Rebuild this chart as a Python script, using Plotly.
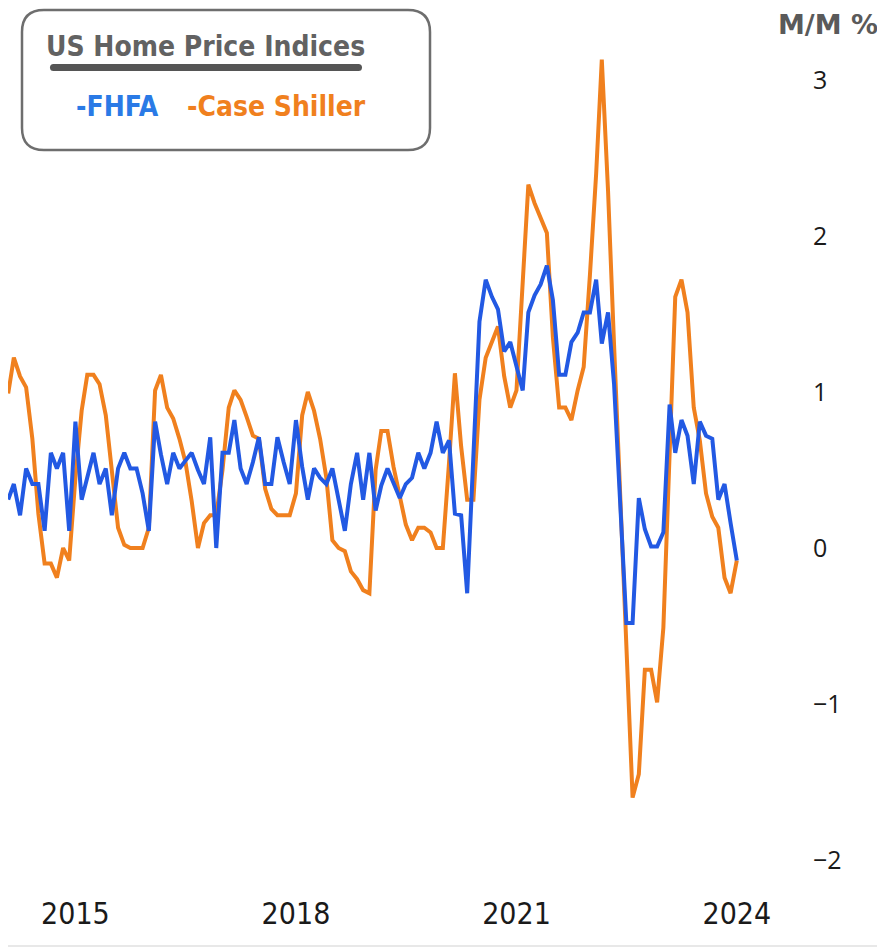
import plotly.graph_objects as go
import pandas as pd

# ---------------- data (monthly, M/M %) ----------------
start_month = "2014-02-01"
n_months = 120

fhfa = [
    0.31, 0.41, 0.21, 0.51, 0.41, 0.41, 0.11, 0.61, 0.51, 0.61,
    0.11, 0.81, 0.31, 0.45, 0.61, 0.41, 0.51, 0.21, 0.51, 0.61,
    0.51, 0.51, 0.35, 0.11, 0.81, 0.60, 0.41, 0.61, 0.51, 0.56,
    0.61, 0.50, 0.41, 0.71, 0.00, 0.61, 0.61, 0.82, 0.51, 0.41,
    0.55, 0.71, 0.41, 0.41, 0.71, 0.55, 0.41, 0.82, 0.52, 0.31,
    0.51, 0.45, 0.41, 0.51, 0.30, 0.11, 0.41, 0.61, 0.31, 0.61,
    0.24, 0.40, 0.51, 0.41, 0.32, 0.41, 0.45, 0.61, 0.51, 0.61,
    0.81, 0.61, 0.69, 0.22, 0.21, -0.29, 0.60, 1.45, 1.72, 1.61,
    1.53, 1.26, 1.32, 1.17, 1.01, 1.51, 1.62, 1.69, 1.81, 1.59,
    1.11, 1.11, 1.32, 1.38, 1.51, 1.51, 1.72, 1.31, 1.51, 1.05,
    0.30, -0.48, -0.48, 0.32, 0.12, 0.01, 0.01, 0.10, 0.92, 0.61,
    0.82, 0.72, 0.41, 0.81, 0.72, 0.70, 0.31, 0.41, 0.16, -0.08,
]

case_shiller = [
    0.99, 1.22, 1.10, 1.03, 0.70, 0.22, -0.10, -0.10, -0.19, 0.00,
    -0.08, 0.45, 0.88, 1.11, 1.11, 1.05, 0.85, 0.47, 0.13, 0.02,
    0.00, 0.00, 0.00, 0.13, 1.01, 1.11, 0.90, 0.83, 0.70, 0.55,
    0.30, 0.00, 0.16, 0.21, 0.21, 0.50, 0.90, 1.01, 0.95, 0.84,
    0.72, 0.70, 0.38, 0.25, 0.21, 0.21, 0.21, 0.35, 0.85, 1.00,
    0.88, 0.70, 0.45, 0.05, 0.00, -0.02, -0.15, -0.20, -0.27, -0.29,
    0.50, 0.75, 0.75, 0.52, 0.33, 0.15, 0.05, 0.13, 0.13, 0.10,
    0.00, 0.00, 0.55, 1.12, 0.65, 0.31, 0.31, 0.95, 1.22, 1.32,
    1.42, 1.10, 0.90, 1.01, 1.65, 2.33, 2.21, 2.12, 2.02, 1.35,
    0.90, 0.90, 0.82, 1.01, 1.16, 1.75, 2.40, 3.13, 2.29, 1.30,
    0.30, -0.70, -1.60, -1.45, -0.78, -0.78, -0.99, -0.51, 0.55, 1.61,
    1.72, 1.51, 0.90, 0.69, 0.35, 0.20, 0.13, -0.19, -0.29, -0.08,
]

x_tick_dates = ["2015-01-01", "2018-01-01", "2021-01-01", "2024-01-01"]
x_tick_labels = ["2015", "2018", "2021", "2024"]
y_ticks = [-2, -1, 0, 1, 2, 3]

months = pd.date_range(start_month, periods=n_months, freq="MS")

# ---------------- layout geometry ----------------
# page body has an 8px margin, so figure pixel = target pixel - 8
OFF = 8
W, H = 885 - OFF, 951 - OFF
PLOT_L, PLOT_R, PLOT_T, PLOT_B = 8, 800, 30, 890   # target-pixel plot box
ML = PLOT_L - OFF
MT = PLOT_T - OFF
MR = W - (PLOT_R - OFF)
MB = H - (PLOT_B - OFF)
PW = PLOT_R - PLOT_L
PH = PLOT_B - PLOT_T

ZERO_Y = 548
PX_PER_UNIT = 156.0

BLUE = "#2259e3"
ORANGE = "#f0801e"
BLUE_TXT = "#2a7ae6"


def px(x):
    return (x - PLOT_L) / PW


def py(y):
    return (PLOT_B - y) / PH


def rrect(x0, y0, x1, y1, r):
    pts = [
        ("M", [(x0 + r, y0)]), ("L", [(x1 - r, y0)]), ("Q", [(x1, y0), (x1, y0 + r)]),
        ("L", [(x1, y1 - r)]), ("Q", [(x1, y1), (x1 - r, y1)]),
        ("L", [(x0 + r, y1)]), ("Q", [(x0, y1), (x0, y1 - r)]),
        ("L", [(x0, y0 + r)]), ("Q", [(x0, y0), (x0 + r, y0)]),
    ]
    s = ""
    for cmd, ps in pts:
        s += cmd + " " + " ".join(f"{px(a):.5f},{py(b):.5f}" for a, b in ps) + " "
    return s + "Z"


fig = go.Figure()
fig.add_trace(go.Scatter(x=months, y=case_shiller, mode="lines", name="Case Shiller",
                         line=dict(color=ORANGE, width=4)))
fig.add_trace(go.Scatter(x=months, y=fhfa, mode="lines", name="FHFA",
                         line=dict(color=BLUE, width=4)))

NARROW = "Liberation Sans Narrow, DejaVu Sans Condensed, Arial Narrow, sans-serif"

fig.update_layout(
    width=W, height=H,
    margin=dict(l=ML, r=MR, t=MT, b=MB),
    paper_bgcolor="white", plot_bgcolor="white",
    showlegend=False,
    xaxis=dict(
        range=["2014-01-31", "2024-11-10"],
        tickvals=x_tick_dates, ticktext=x_tick_labels,
        showgrid=False, zeroline=False, showline=False, ticks="",
        tickfont=dict(family=NARROW, size=30, color="#1a1a1a"),
        ticklabelstandoff=3,
    ),
    yaxis=dict(
        range=[-(PLOT_B - ZERO_Y) / PX_PER_UNIT, (ZERO_Y - PLOT_T) / PX_PER_UNIT],
        side="right", tickvals=y_ticks,
        showgrid=False, zeroline=False, showline=False, ticks="",
        tickfont=dict(family="Open Sans, sans-serif", size=25, color="#1a1a1a"),
        ticklabelstandoff=12,
    ),
)

shapes = [
    dict(type="path", xref="paper", yref="paper", path=rrect(22, 10, 430, 150, 22),
         line=dict(color="#6e6e6e", width=2.5), fillcolor="white", layer="above"),
    dict(type="path", xref="paper", yref="paper", path=rrect(50, 64, 362, 71, 3.5),
         line=dict(width=0), fillcolor="#555555", layer="above"),
    dict(type="line", xref="paper", yref="paper", x0=px(8), x1=px(885), y0=py(946), y1=py(946),
         line=dict(color="#e8e8e8", width=2)),
]
fig.update_layout(shapes=shapes)

ann = [
    dict(text="<b>US Home Price Indices</b>", x=px(205), y=py(46),
         font=dict(family=NARROW, size=28, color="#626262")),
    dict(text="<b>-FHFA</b>", x=px(117), y=py(107),
         font=dict(family=NARROW, size=28, color=BLUE_TXT)),
    dict(text="<b>-Case Shiller</b>", x=px(276), y=py(107),
         font=dict(family=NARROW, size=28, color=ORANGE)),
    dict(text="<b>M/M %</b>", x=px(828), y=py(25),
         font=dict(family="DejaVu Sans, sans-serif", size=27, color="#5a5a5a")),
]
for a in ann:
    a.update(xref="paper", yref="paper", showarrow=False, xanchor="center", yanchor="middle")
fig.update_layout(annotations=ann)

fig.write_html("out.html")
